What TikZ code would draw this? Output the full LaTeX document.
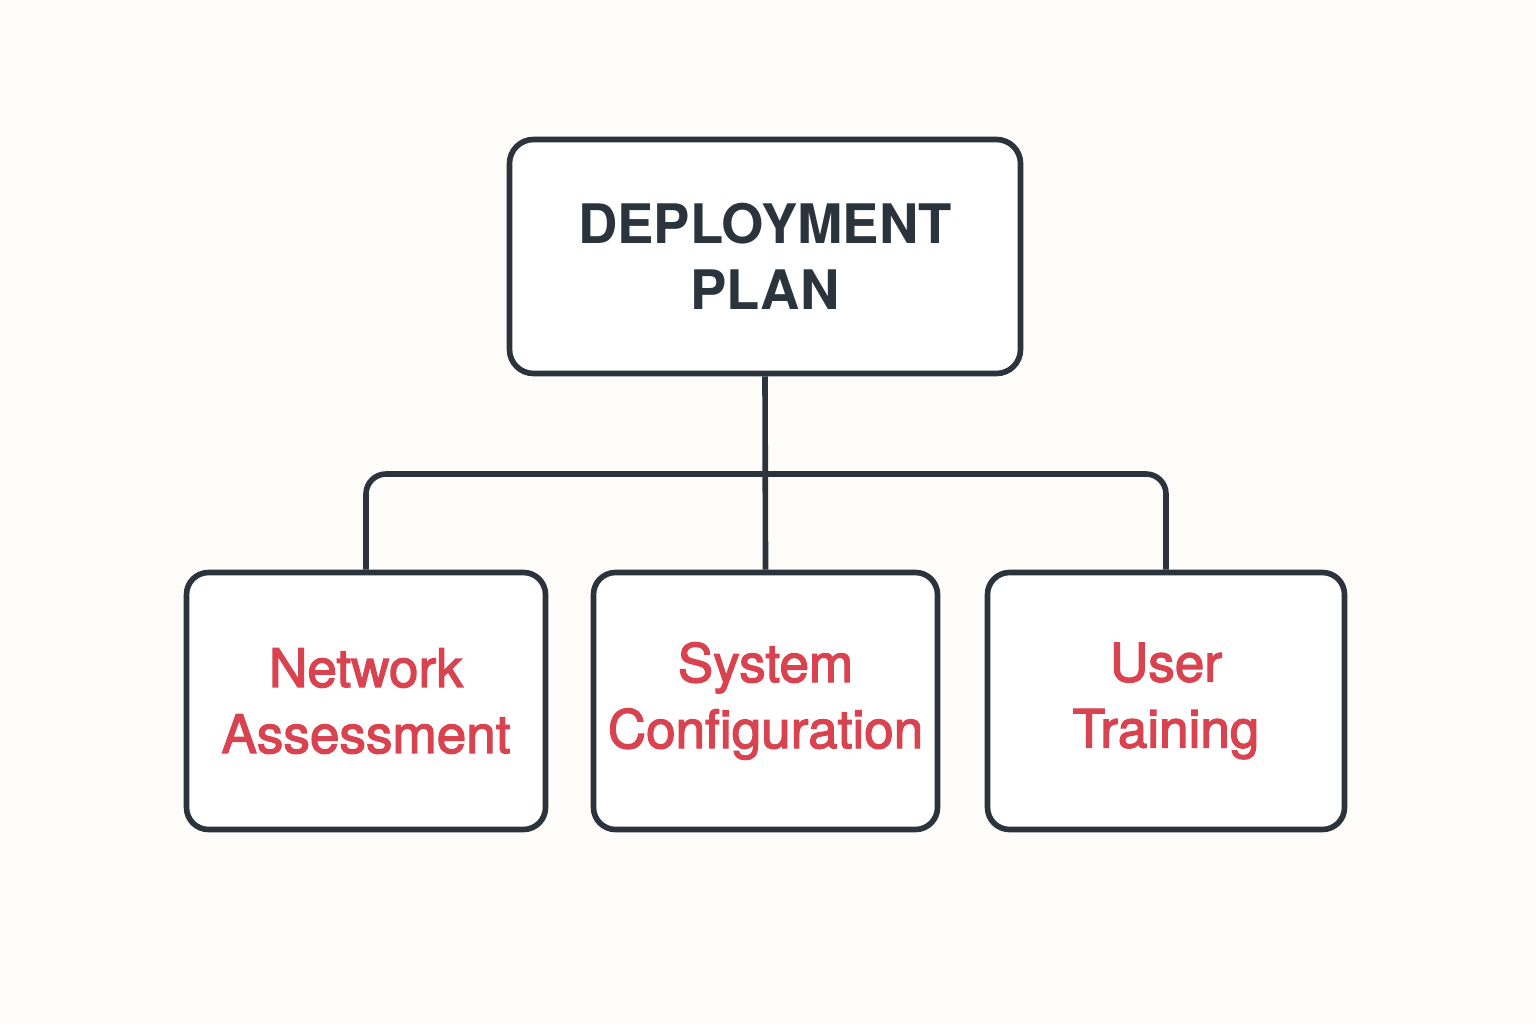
\documentclass[tikz,border=0pt]{standalone}
\usepackage{fontspec}
\setmainfont{TeX Gyre Heros}
\newfontfamily\medio[FakeBold=2.4]{TeX Gyre Heros}
\usetikzlibrary{positioning}

\definecolor{inchiostro}{HTML}{2B333D}
\definecolor{rosso}{HTML}{D8434F}
\definecolor{carta}{HTML}{FDFCF9}

\begin{document}
\begin{tikzpicture}[
    radice/.style={draw=inchiostro,line width=1.6pt,rounded corners=0.24cm,
                   fill=white,minimum width=5.11cm,minimum height=2.34cm,
                   inner sep=0pt,align=center,text=inchiostro,
                   font=\fontsize{15.5}{18.8}\selectfont\bfseries},
    figlio/.style={draw=inchiostro,line width=1.6pt,rounded corners=0.22cm,
                   fill=white,minimum height=2.57cm,inner sep=0pt,
                   align=center,text=rosso,
                   font=\medio\fontsize{15.1}{18.8}\selectfont},
    ramo/.style={draw=inchiostro,line width=1.6pt}]

  % --- sfondo e cornice ---
  \fill[carta] (0,0) rectangle (15.36,10.24);
  \useasboundingbox (0,0) rectangle (15.36,10.24);

  % --- la radice dell'albero ---
  \node[radice] (piano) at (7.65,7.675) {DEPLOYMENT\\PLAN};

  % --- i tre figli ---
  \node[figlio,minimum width=3.59cm] (rete)  at (3.66,3.23)  {Network\\Assessment};
  \node[figlio,minimum width=3.44cm] (sist)  at (7.655,3.23) {System\\Configuration};
  \node[figlio,minimum width=3.57cm] (utenti) at (11.66,3.23) {User\\Training};

  % --- i rami ---
  \coordinate (barra) at (7.65,5.50);
  \draw[ramo] (piano.south) -- (sist.north);
  \draw[ramo,rounded corners=0.2cm] (rete.north) |- (barra) -| (utenti.north);

\end{tikzpicture}
\end{document}
